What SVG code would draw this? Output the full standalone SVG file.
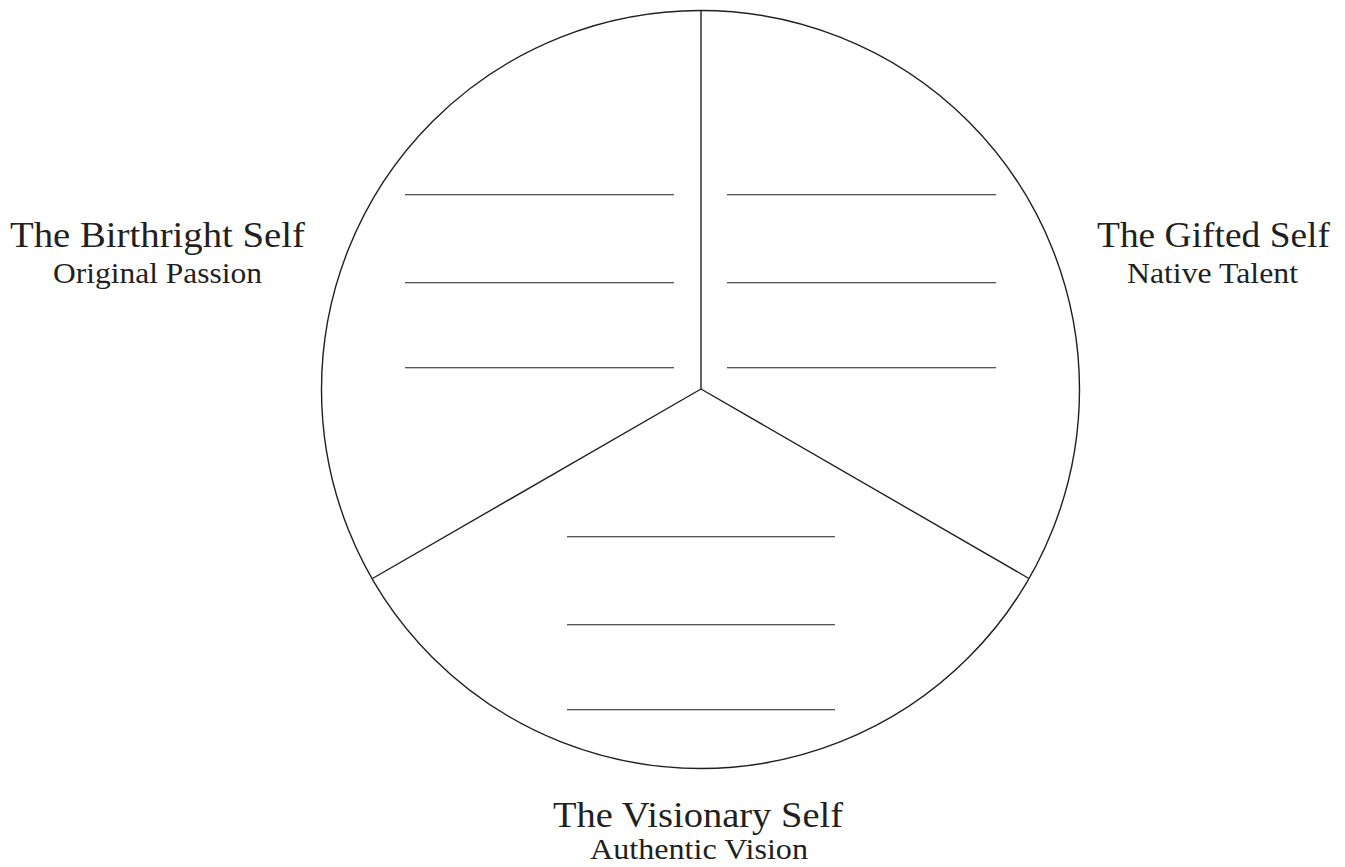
<svg xmlns="http://www.w3.org/2000/svg" width="1345" height="867" viewBox="0 0 1345 867">
<style>
.title{font-family:"Liberation Serif","Times New Roman",serif;font-size:36px;fill:#231f20;text-anchor:middle}
.sub{font-family:"Liberation Serif","Times New Roman",serif;font-size:29px;fill:#231f20;text-anchor:middle}
.rule{stroke:#231f20;stroke-width:1.1;fill:none}
.edge{stroke:#231f20;stroke-width:1.4;fill:none}
</style>
<rect width="1345" height="867" fill="#ffffff"/>
<g id="wheel">
<circle cx="700.5" cy="389.5" r="379" class="edge"/>
</g>
<g id="connectors">
<line x1="701" y1="10.5" x2="701" y2="389" class="edge"/>
<line x1="701" y1="389" x2="372.5" y2="578.5" class="edge"/>
<line x1="701" y1="389" x2="1029" y2="578.5" class="edge"/>
</g>
<g id="birthright-blanks">
<line x1="405" y1="194.8" x2="674" y2="194.8" class="rule"/>
<line x1="405" y1="282.8" x2="674" y2="282.8" class="rule"/>
<line x1="405" y1="367.8" x2="674" y2="367.8" class="rule"/>
</g>
<g id="gifted-blanks">
<line x1="727" y1="194.8" x2="996" y2="194.8" class="rule"/>
<line x1="727" y1="282.8" x2="996" y2="282.8" class="rule"/>
<line x1="727" y1="367.8" x2="996" y2="367.8" class="rule"/>
</g>
<g id="visionary-blanks">
<line x1="567" y1="536.8" x2="835" y2="536.8" class="rule"/>
<line x1="567" y1="624.8" x2="835" y2="624.8" class="rule"/>
<line x1="567" y1="709.8" x2="835" y2="709.8" class="rule"/>
</g>
<g id="birthright-label">
<text x="157.5" y="247" class="title" textLength="295" lengthAdjust="spacingAndGlyphs">The Birthright Self</text>
<text x="157.5" y="283" class="sub" textLength="209" lengthAdjust="spacingAndGlyphs">Original Passion</text>
</g>
<g id="gifted-label">
<text x="1213.5" y="247" class="title" textLength="233" lengthAdjust="spacingAndGlyphs">The Gifted Self</text>
<text x="1212.5" y="283" class="sub" textLength="171" lengthAdjust="spacingAndGlyphs">Native Talent</text>
</g>
<g id="visionary-label">
<text x="698" y="827" class="title" textLength="290" lengthAdjust="spacingAndGlyphs">The Visionary Self</text>
<text x="699" y="859" class="sub" textLength="218" lengthAdjust="spacingAndGlyphs">Authentic Vision</text>
</g>
</svg>
